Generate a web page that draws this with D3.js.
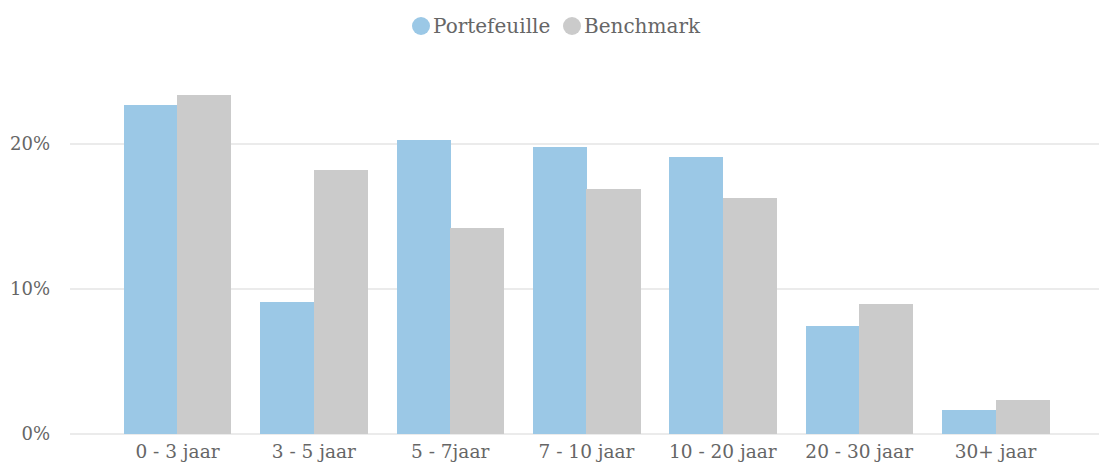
<!DOCTYPE html>
<html><head><meta charset="utf-8">
<script src="https://cdn.jsdelivr.net/npm/d3@7"></script>
<style>body{margin:0;background:#fff}svg{display:block}</style>
</head><body>
<svg id="c" width="1099" height="466"></svg>
<script>
const categories = ["0 - 3 jaar","3 - 5 jaar","5 - 7jaar","7 - 10 jaar","10 - 20 jaar","20 - 30 jaar","30+ jaar"];
const seriesNames = ["Portefeuille","Benchmark"];
const portefeuille = [22.7, 9.1, 20.3, 19.8, 19.1, 7.45, 1.66];
const benchmark = [23.4, 18.2, 14.2, 16.9, 16.3, 8.97, 2.34];
const yTicks = [0, 10, 20];
const colors = ["#9bc8e6","#cbcbcb"];
const font = "'DejaVu Serif', serif";
const textColor = "#666";

const svg = d3.select("#c");
const x = d3.scaleBand().domain(categories).range([109.3, 1063.7]).paddingInner(0.215).paddingOuter(0.1075);
const x1 = d3.scaleBand().domain(seriesNames).range([0, x.bandwidth()]);
const y = d3.scaleLinear().domain([0, 20]).range([434, 144]);

// grid
svg.append("g").selectAll("line").data(yTicks).join("line")
  .attr("x1", 70).attr("x2", 1099)
  .attr("y1", d => y(d)).attr("y2", d => y(d))
  .attr("stroke", "#ebebeb").attr("stroke-width", 2);

const yAxis = svg.append("g").attr("transform","translate(50,0)")
  .call(d3.axisLeft(y).tickValues(yTicks).tickFormat(d => d + "%").tickSize(0).tickPadding(0));
yAxis.select(".domain").remove();
yAxis.selectAll("text").attr("font-family", font).attr("font-size", 18).attr("fill", textColor);

const xAxis = svg.append("g").attr("transform","translate(0,445)")
  .call(d3.axisBottom(x).tickSize(0).tickPadding(0));
xAxis.select(".domain").remove();
xAxis.selectAll("text").attr("font-family", font).attr("font-size", 18.5).attr("fill", textColor).attr("dy","0.71em");

const data = categories.map((c,i) => ({c, vals:[portefeuille[i], benchmark[i]]}));
svg.append("g").attr("shape-rendering","crispEdges").selectAll("g").data(data).join("g")
  .attr("transform", d => `translate(${x(d.c)},0)`)
  .selectAll("rect").data(d => d.vals.map((v,j)=>({v, s:seriesNames[j], j})))
  .join("rect")
  .attr("x", d => x1(d.s)).attr("width", x1.bandwidth() + 0.5)
  .attr("y", d => y(d.v)).attr("height", d => y(0) - y(d.v))
  .attr("fill", d => colors[d.j]);

// legend
const legendX = [421, 572];
const lg = svg.append("g").selectAll("g").data(seriesNames).join("g")
  .attr("transform", (d,i) => `translate(${legendX[i]},26)`);
lg.append("circle").attr("r", 9).attr("fill", (d,i) => colors[i]);
lg.append("text").attr("x", 12).attr("dy","0.35em").text(d => d)
  .attr("font-family", font).attr("font-size", 20).attr("fill", textColor);
</script>
</body></html>
